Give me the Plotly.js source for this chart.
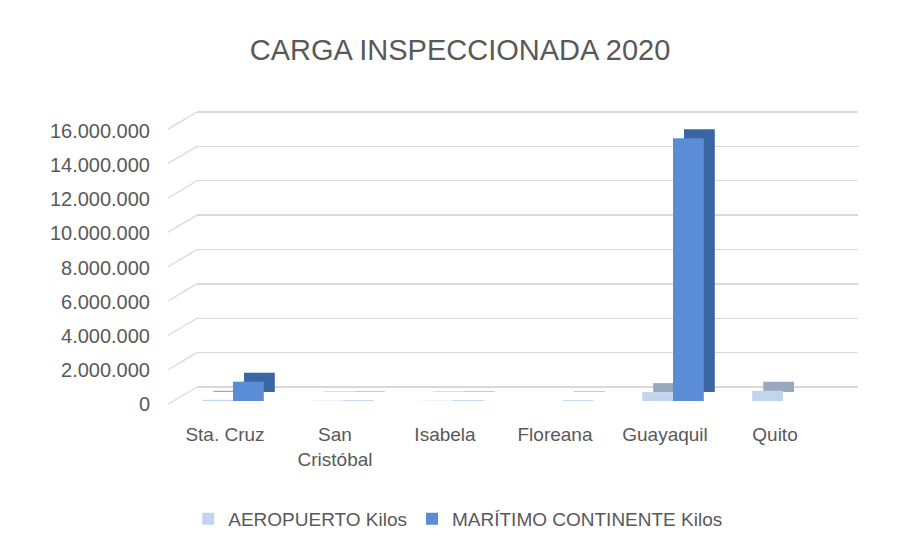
<!DOCTYPE html>
<html><head><meta charset="utf-8">
<script src="https://cdn.plot.ly/plotly-3.0.1.min.js"></script>
<style>html,body{margin:0;padding:0;background:#fff}#chart{width:902px;height:549px}</style>
</head><body><div id="chart"></div>
<script>
const categories = ['Sta. Cruz', 'San<br>Cristóbal', 'Isabela', 'Floreana', 'Guayaquil', 'Quito'];
const aeropuerto = [70000, 20000, 20000, null, 520000, 600000];
const maritimo = [1130000, 20000, 20000, 20000, 15400000, null];
const seriesNames = ['AEROPUERTO Kilos', 'MARÍTIMO CONTINENTE Kilos'];
const yTicks = [0, 2000000, 4000000, 6000000, 8000000, 10000000, 12000000, 14000000, 16000000];
const chartTitle = 'CARGA INSPECCIONADA 2020';

const font = 'Liberation Sans, Arial, sans-serif';
const txt = '#595959';
const frontColors = ['#C3D5EE', '#5A8DD6'];
const depthColors = ['#97A8BF', '#3B66A6'];

const data = [
  {type:'bar', x:categories, y:aeropuerto, name:seriesNames[0], xaxis:'x3', yaxis:'y3',
   marker:{color:frontColors[0]}, hoverinfo:'skip'},
  {type:'bar', x:categories, y:maritimo, name:seriesNames[1], xaxis:'x3', yaxis:'y3',
   marker:{color:frontColors[1]}, hoverinfo:'skip'},
  {type:'bar', x:categories, y:aeropuerto, name:seriesNames[0], xaxis:'x2', yaxis:'y2',
   marker:{color:depthColors[0]}, showlegend:false, hoverinfo:'skip'},
  {type:'bar', x:categories, y:maritimo, name:seriesNames[1], xaxis:'x2', yaxis:'y2',
   marker:{color:depthColors[1]}, showlegend:false, hoverinfo:'skip'},
  {type:'scatter', mode:'markers', x:[0.5], y:[0], xaxis:'x', yaxis:'y', marker:{opacity:0},
   showlegend:false, hoverinfo:'skip'}
];

// floor diagonals joining the front tick labels to the back-wall gridlines
const dy = 1000000;
const shapes = yTicks.map(v => ({type:'line', xref:'paper', yref:'y', x0:18/712, x1:47/712,
  y0:v - dy, y1:v, line:{color:'#D9D9D9', width:1.3}}));

const layout = {
  width:902, height:549,
  margin:{l:150, r:40, t:100, b:139},
  paper_bgcolor:'#fff', plot_bgcolor:'rgba(0,0,0,0)',
  separators:',.',
  font:{family:font, color:txt, size:19},
  title:{text:chartTitle, font:{family:font, size:29, color:txt}, x:0.51, xref:'container', xanchor:'center', y:0.909, yanchor:'middle'},
  barmode:'group', bargap:0.44, bargroupgap:0,
  showlegend:true,
  legend:{orientation:'h', x:0.508, xanchor:'center', xref:'container', y:0.055, yref:'container', yanchor:'middle',
    font:{family:font, size:19, color:txt}, itemwidth:30, tracegroupgap:0},
  xaxis:{domain:[47/712, 708/712], range:[0,1], showgrid:false, showticklabels:false, zeroline:false, showline:false, fixedrange:true},
  yaxis:{domain:[0, 1], range:[-1338000, 16698000], tickvals:yTicks, showgrid:true, gridcolor:'#D9D9D9', gridwidth:1.3,
    showticklabels:false, zeroline:false, showline:false, ticks:'', fixedrange:true},
  xaxis2:{domain:[39/712, 699/712], anchor:'y2', range:[-0.5,5.5], showgrid:false, showticklabels:false, zeroline:false, showline:false},
  yaxis2:{domain:[18/310, 291/310], anchor:'x2', range:[0,16000000], showgrid:false, showticklabels:false, zeroline:false, showline:false},
  xaxis3:{domain:[28/712, 688/712], anchor:'y3', range:[-0.5,5.5], showgrid:false, zeroline:false, showline:false,
    ticks:'', ticklabelstandoff:20, ticklabelshift:-8, tickfont:{family:font, size:19, color:txt}},
  yaxis3:{domain:[9/310, 282/310], anchor:'free', position:0, range:[0,16000000], tickvals:yTicks, tickformat:',d',
    showgrid:false, zeroline:false, showline:false, ticks:'', ticklabelstandoff:0, ticklabelshift:3, tickfont:{family:font, size:20, color:txt}},
  shapes:shapes
};

Plotly.newPlot('chart', data, layout, {displayModeBar:false, staticPlot:true});
</script>
</body></html>
